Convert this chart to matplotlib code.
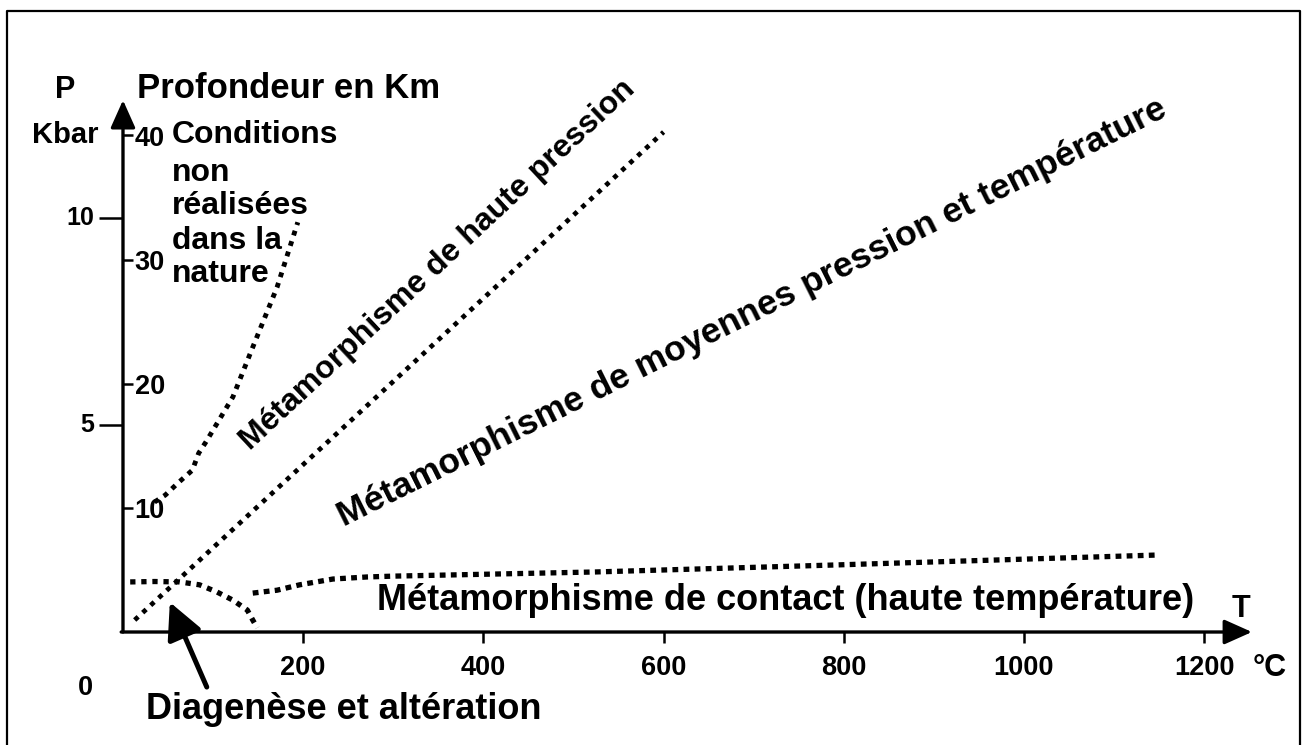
import matplotlib

matplotlib.use("Agg")

import matplotlib.pyplot as plt
from matplotlib.lines import Line2D

plt.rcParams["font.family"] = ["Liberation Sans", "DejaVu Sans"]
plt.rcParams["font.weight"] = "bold"

# ------------------------------------------------------------
# Data (T in degC, P in kbar)
# ------------------------------------------------------------
T_TICKS = [200, 400, 600, 800, 1000, 1200]
P_TICKS = [5, 10]
DEPTH_TICKS = [10, 20, 30, 40]          # km
KBAR_PER_KM = 0.3

# limit of "conditions non realisees dans la nature"
cond_T = [35, 47, 61, 77, 84, 92, 100, 122, 144, 171, 194]
cond_P = [3.14, 3.31, 3.60, 3.91, 4.32, 4.59, 4.88, 5.68, 6.88, 8.33, 9.9]

# limit high pressure / medium pressure-temperature
hp_T = [13, 600]
hp_P = [0.29, 12.08]

# diagenesis / alteration limit
dia_T = [8, 35, 63, 85, 104, 122, 138, 144, 149]
dia_P = [1.21, 1.22, 1.21, 1.14, 0.97, 0.77, 0.53, 0.29, 0.10]

# contact metamorphism limit
con_T = [144, 171, 196, 233, 271, 300, 523, 791, 1148]
con_P = [0.94, 1.01, 1.14, 1.28, 1.33, 1.35, 1.45, 1.62, 1.86]

CONDITIONS_LINES = ["Conditions", "non", "réalisées", "dans la", "nature"]
CONDITIONS_P = [12.0, 11.1, 10.3, 9.45, 8.65]

T_MAX = 1253
P_MAX = 12.85

fig = plt.figure(figsize=(13.06, 7.45), dpi=100)
ax = fig.add_axes([0, 0, 1, 1])
# map data straight onto pixels of the original sheet
ax.set_xlim(-136.5, 1313)
ax.set_ylim(-2.73, 15.27)
ax.axis("off")

# frame around the sheet (bottom edge is cut off in the original)
fig.add_artist(Line2D([7 / 1306, 7 / 1306, 1300 / 1306, 1300 / 1306],
                      [-0.01, 1 - 11 / 745, 1 - 11 / 745, -0.01],
                      transform=fig.transFigure, color="black", lw=1.6))

# axes with arrow heads
arrow_kw = dict(arrowstyle="-|>,head_length=0.85,head_width=0.38", lw=2.4,
                color="black", shrinkA=0, shrinkB=0, mutation_scale=20)
ax.annotate("", xy=(0, P_MAX), xytext=(0, 0), arrowprops=arrow_kw)
ax.annotate("", xy=(T_MAX, 0), xytext=(-2, 0), arrowprops=arrow_kw)

# temperature ticks
for t in T_TICKS:
    ax.plot([t, t], [0, -0.27], color="black", lw=1.8, solid_capstyle="butt")
    ax.text(t, -0.87, str(t), ha="center", va="center", fontsize=19.5)
ax.text(-42, -1.35, "0", ha="center", va="center", fontsize=19.5)

# pressure ticks (left)
for p in P_TICKS:
    ax.plot([-27, 0], [p, p], color="black", lw=1.8, solid_capstyle="butt")
    ax.text(-32, p, str(p), ha="right", va="center", fontsize=18)

# depth ticks (right of the axis)
for km in DEPTH_TICKS:
    p = km * KBAR_PER_KM
    ax.plot([0, 11], [p, p], color="black", lw=1.8, solid_capstyle="butt")
    ax.text(13, p - 0.08, str(km), ha="left", va="center", fontsize=19.5)

# axis titles
ax.text(-64, 13.1, "P", ha="center", va="center", fontsize=22)
ax.text(-64, 12.0, "Kbar", ha="center", va="center", fontsize=21)
ax.text(15, 13.14, "Profondeur en Km", ha="left", va="center", fontsize=25)
ax.text(1241, 0.55, "T", ha="center", va="center", fontsize=22)
ax.text(1273, -0.87, "°C", ha="center", va="center", fontsize=22)

# dotted boundaries
ax.plot(cond_T, cond_P, color="black", lw=3.5, linestyle=(0, (1, 1.25)),
        dash_capstyle="butt")
ax.plot(hp_T, hp_P, color="black", lw=3.4, linestyle=(0, (1, 1.3)),
        dash_capstyle="butt")
ax.plot(dia_T, dia_P, color="black", lw=3.8, linestyle=(0, (1.0, 1.1)),
        dash_capstyle="butt")
ax.plot(con_T, con_P, color="black", lw=3.8, linestyle=(0, (1.1, 1.0)),
        dash_capstyle="butt")

# field labels
for line, p in zip(CONDITIONS_LINES, CONDITIONS_P):
    ax.text(54, p, line, ha="left", va="center", fontsize=23)
ax.text(349, 8.86, "Métamorphisme de haute pression", rotation=43,
        rotation_mode="anchor", ha="center", va="center", fontsize=23)
ax.text(698, 7.72, "Métamorphisme de moyennes pression et température",
        rotation=26.5, rotation_mode="anchor", ha="center", va="center",
        fontsize=25.5)
ax.text(735, 0.77, "Métamorphisme de contact (haute température)",
        ha="center", va="center", fontsize=26)

# diagenesis label and arrow
ax.annotate("", xy=(52, 0.72), xytext=(93, -1.33),
            arrowprops=dict(arrowstyle="-|>,head_length=1.0,head_width=0.5",
                            lw=3.6, color="black", shrinkA=0, shrinkB=0,
                            mutation_scale=22))
ax.text(245, -1.88, "Diagenèse et altération", ha="center", va="center",
        fontsize=26)

fig.savefig("out.png", dpi=100, facecolor="white")
